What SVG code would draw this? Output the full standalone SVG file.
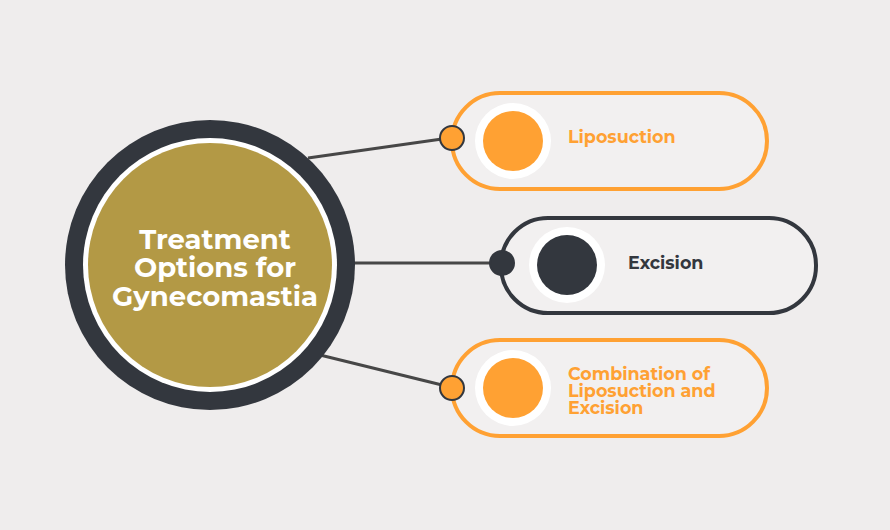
<svg xmlns="http://www.w3.org/2000/svg" width="890" height="530" viewBox="0 0 890 530">
<style>
.o{fill:#ffa133}.d{fill:#33373e}
.pill{fill:#f2f0f0;stroke-width:4}
.lab{font-family:Montserrat,"Open Sans","Liberation Sans",sans-serif;font-weight:bold;font-size:17.5px}
.con{stroke:#474747;stroke-width:3;fill:none}
</style>
<rect width="890" height="530" fill="#efeded"/>
<g id="connectors">
<line class="con" x1="308" y1="158" x2="442" y2="139"/>
<line class="con" x1="353" y1="263" x2="492" y2="263"/>
<line class="con" x1="320" y1="355" x2="442" y2="385"/>
</g>
<g id="center">
<circle cx="210" cy="265" r="145" fill="#33373e"/>
<circle cx="210" cy="265" r="127" fill="#fff"/>
<circle cx="210" cy="265" r="122" fill="#b39945"/>
<text font-family="Montserrat,'Open Sans','Liberation Sans',sans-serif" font-weight="bold" font-size="27.5" fill="#fff" text-anchor="middle"><tspan x="215" y="249">Treatment</tspan><tspan x="215" y="277">Options for</tspan><tspan x="215" y="306">Gynecomastia</tspan></text>
</g>
<g id="liposuction">
<rect class="pill" x="452" y="93" width="315" height="96" rx="48" stroke="#ffa133"/>
<circle cx="513" cy="141" r="38" fill="#fff"/>
<circle class="o" cx="513" cy="141" r="30"/>
<circle class="o" cx="452" cy="138" r="12" stroke="#33373e" stroke-width="2"/>
<text class="lab o" x="568" y="143">Liposuction</text>
</g>
<g id="excision">
<rect class="pill" x="501" y="218" width="315" height="95" rx="47" stroke="#33373e"/>
<circle cx="567" cy="265" r="38" fill="#fff"/>
<circle class="d" cx="567" cy="265" r="30"/>
<circle class="d" cx="502" cy="263" r="12" stroke="#33373e" stroke-width="2"/>
<text class="lab d" x="628" y="269">Excision</text>
</g>
<g id="combination">
<rect class="pill" x="452" y="340" width="315" height="96" rx="48" stroke="#ffa133"/>
<circle cx="513" cy="388" r="38" fill="#fff"/>
<circle class="o" cx="513" cy="388" r="30"/>
<circle class="o" cx="452" cy="388" r="12" stroke="#33373e" stroke-width="2"/>
<text class="lab o"><tspan x="568" y="380">Combination of</tspan><tspan x="568" y="397">Liposuction and</tspan><tspan x="568" y="414">Excision</tspan></text>
</g>
</svg>
